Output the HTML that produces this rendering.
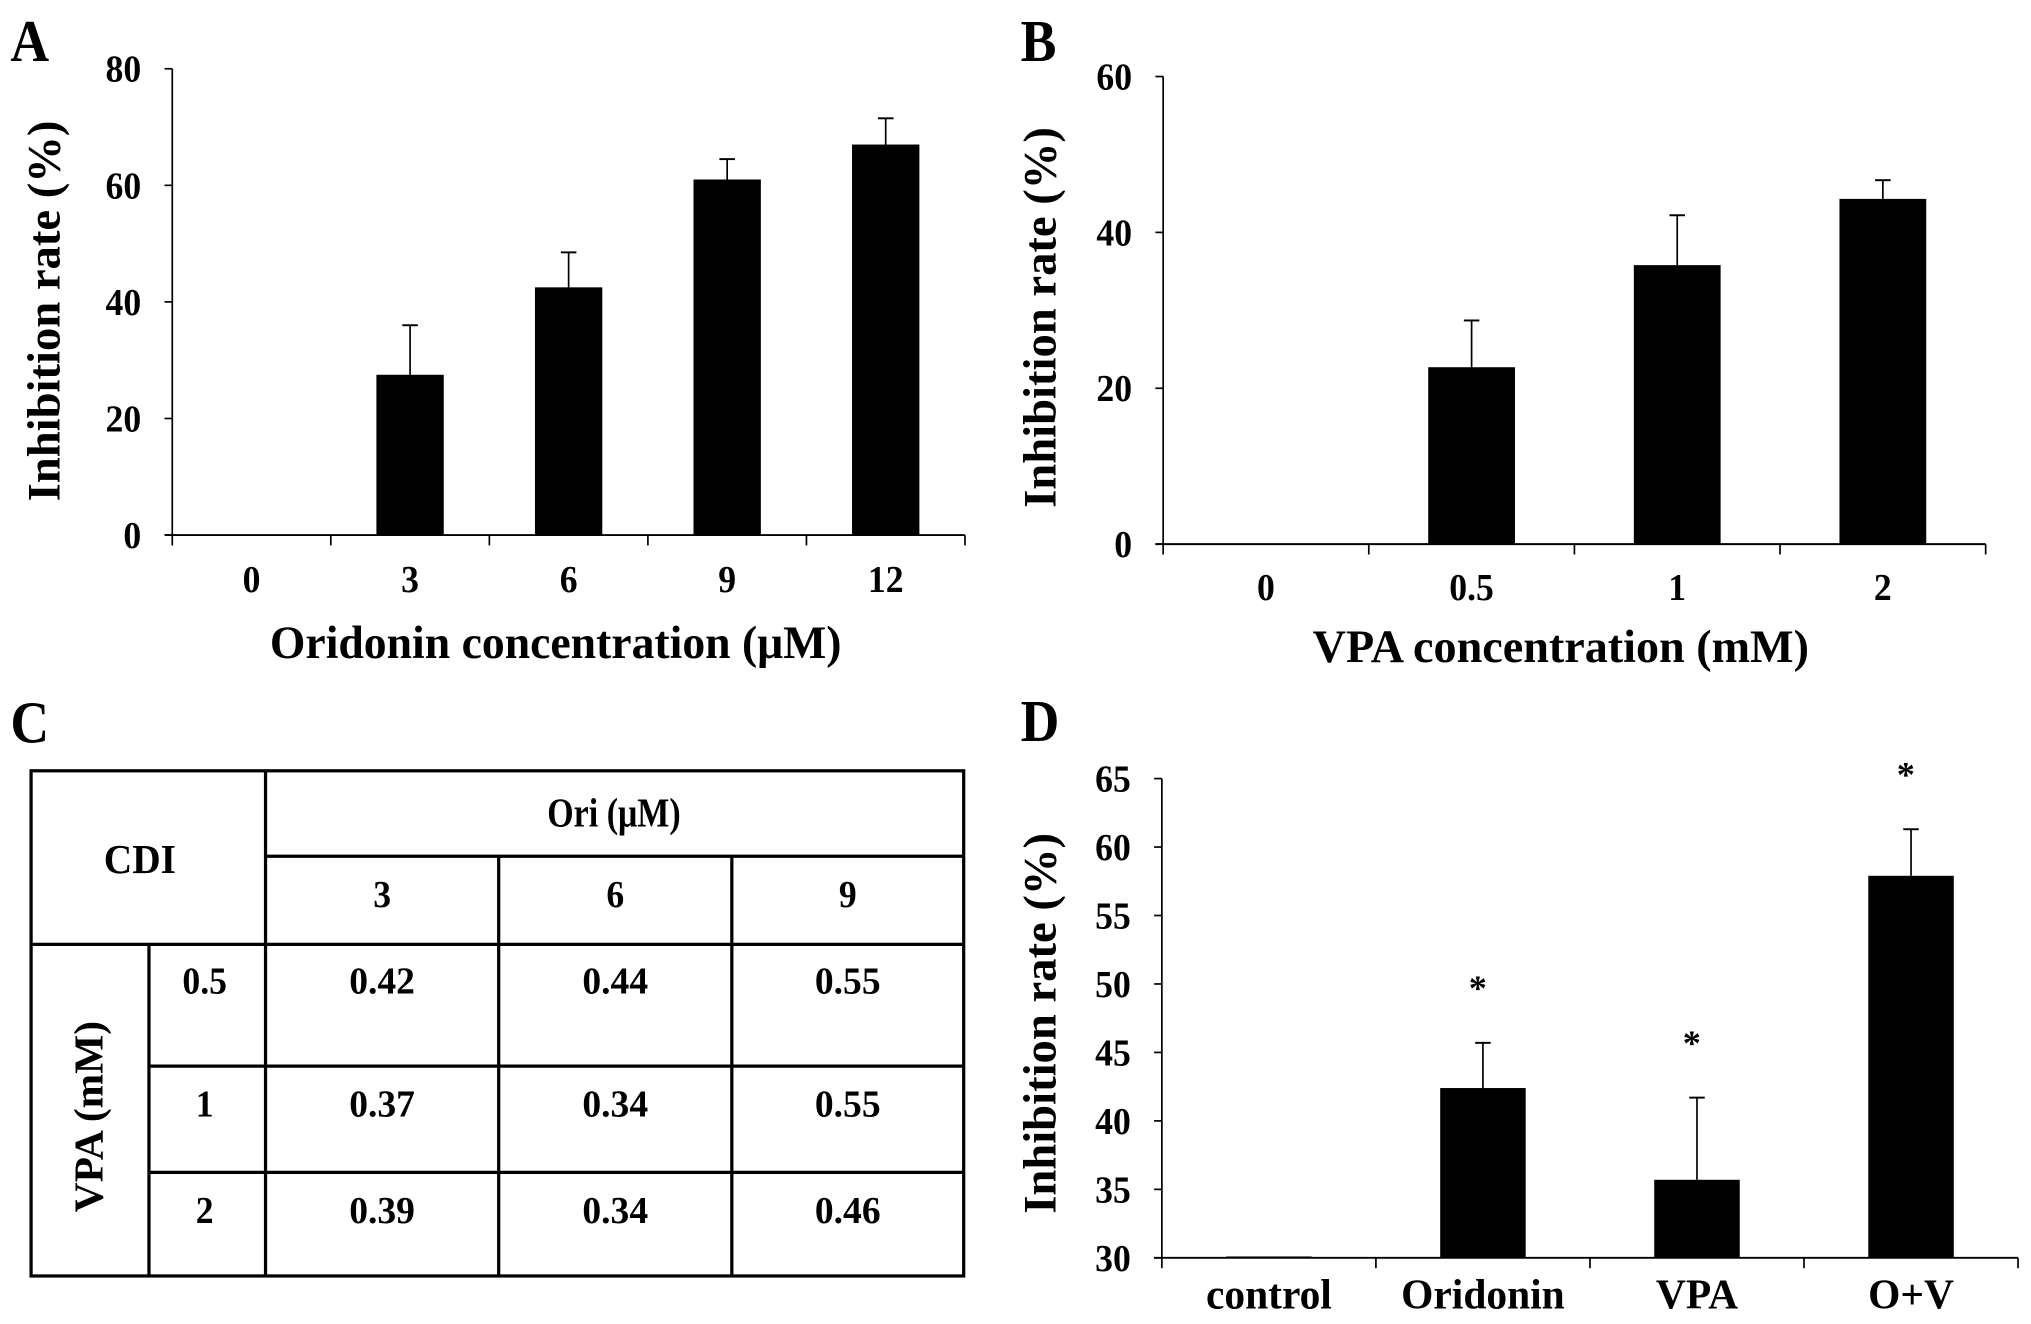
<!DOCTYPE html>
<html><head><meta charset="utf-8"><style>
html,body{margin:0;padding:0;background:#fff;}
svg{display:block;}
text{font-family:"Liberation Serif",serif;font-weight:bold;fill:#000;}
</style></head><body>
<svg id="fig" width="2031" height="1324" viewBox="0 0 1568 1022" xmlns="http://www.w3.org/2000/svg">
<g id="pA"></g>
<g id="pB"></g>
<g id="pC"></g>
<g id="pD"></g>
</svg>
<script>
const catsA=["0","3","6","9","12"];
const valsA=[0,27.5,42.5,61,67];
const errA=[0,36,48.5,64.5,71.5];
const ticksA=[0,20,40,60,80];
const catsB=["0","0.5","1","2"];
const valsB=[0,22.7,35.8,44.3];
const errB=[0,28.7,42.2,46.7];
const ticksB=[0,20,40,60];
const catsD=["control","Oridonin","VPA","O+V"];
const valsD=[30.1,42.4,35.7,57.9];
const errD=[0,45.7,41.7,61.3];
const starD=[false,true,true,true];
const ticksD=[30,35,40,45,50,55,60,65];
const cdiCols=["3","6","9"];
const cdiRows=["0.5","1","2"];
const cdiVals=[["0.42","0.44","0.55"],["0.37","0.34","0.55"],["0.39","0.34","0.46"]];

const NS="http://www.w3.org/2000/svg";
function mk(parent,tag,attrs,txt){const e=document.createElementNS(NS,tag);for(const k in attrs)e.setAttribute(k,attrs[k]);if(txt!==undefined)e.textContent=txt;parent.appendChild(e);return e;}
function ct(parent,x,y,s,fs,anchor,sx,rot){
  return mk(parent,"text",{x:0,y:0,"text-anchor":anchor||"middle","font-size":fs,
    transform:"translate("+x+","+y+")"+(rot?" rotate(-90)":"")+" scale("+(sx||0.8)+",1)"},s);
}

function chart(g,o){
  const y=v=>o.y0-(v-o.vmin)/(o.vmax-o.vmin)*(o.y0-o.yTop);
  const n=o.cats.length, step=(o.x1-o.x0)/n;
  const xc=i=>o.x0+step*(i+0.5);
  let e;
  e=mk(g,"line",{x1:o.x0,y1:o.yTop,x2:o.x0,y2:o.y0,stroke:"#000","stroke-width":1.3});
  
  e=mk(g,"line",{x1:o.x0-6,y1:o.y0,x2:o.x1,y2:o.y0,stroke:"#000","stroke-width":1.5});
  
  o.ticks.forEach(t=>{
    e=mk(g,"line",{x1:o.x0-6,y1:y(t),x2:o.x0,y2:y(t),stroke:"#000","stroke-width":1.3});
    
    e=ct(g,o.x0-24,y(t)+10,String(t),o.tfs,"end",0.95);
    
  });
  for(let i=0;i<=n;i++){
    e=mk(g,"line",{x1:o.x0+step*i,y1:o.y0,x2:o.x0+step*i,y2:o.y0+8,stroke:"#000","stroke-width":1.3});
    
  }
  o.cats.forEach((c,i)=>{
    const v=o.vals[i];
    if(v>o.vmin){
      const h=Math.max(y(o.vmin)-y(v),1.5);
      e=mk(g,"rect",{x:xc(i)-o.bw/2,y:y(v),width:o.bw,height:h,fill:"#000"});
      
    }
    if(o.err[i]>v){
      e=mk(g,"line",{x1:xc(i),y1:y(o.err[i]),x2:xc(i),y2:y(v),stroke:"#000","stroke-width":1.3});
      
      e=mk(g,"line",{x1:xc(i)-6,y1:y(o.err[i]),x2:xc(i)+6,y2:y(o.err[i]),stroke:"#000","stroke-width":1.5});
      
    }
    if(o.stars&&o.stars[i]){
      e=mk(g,"text",{x:xc(i)-4,y:y(o.err[i])-o.starGap,"text-anchor":"middle","font-size":28},"*");
      
    }
    e=ct(g,xc(i),o.labY,c,o.cfs,"middle",o.csx||0.95);
    
  });
}

const A=document.getElementById('pA');
chart(A,{x0:133,x1:745,y0:413,yTop:53,vmin:0,vmax:80,cats:catsA,vals:valsA,err:errA,ticks:ticksA,bw:52,tfs:29,cfs:29,labY:457});
const B=document.getElementById('pB');
chart(B,{x0:898,x1:1533,y0:420,yTop:59,vmin:0,vmax:60,cats:catsB,vals:valsB,err:errB,ticks:ticksB,bw:67,tfs:29,cfs:29,labY:463});
const D=document.getElementById('pD');
chart(D,{x0:897,x1:1558,y0:971,yTop:601,vmin:30,vmax:65,cats:catsD,vals:valsD,err:errD,ticks:ticksD,bw:66,tfs:29,cfs:33,csx:0.97,labY:1010,stars:starD,starGap:33});

function lab(g,name,x,y,s,fs,anchor,sx,rot){const e=ct(g,x,y,s,fs,anchor,sx,rot);return e;}
lab(A,'panel-label-a',8,47,"A",46,"start",0.9);
lab(A,'x-axis-title',429,508,"Oridonin concentration (μM)",36,"middle",0.98);
lab(A,'y-axis-title',46,240,"Inhibition rate (%)",36,"middle",1.0,true);
lab(B,'panel-label-b',788,47,"B",46,"start",0.9);
lab(B,'x-axis-title',1205,511,"VPA concentration (mM)",36,"middle",0.99);
lab(B,'y-axis-title',815,245,"Inhibition rate (%)",36,"middle",1.0,true);
lab(D,'panel-label-d',788,572,"D",46,"start",0.9);
lab(D,'y-axis-title',815,790,"Inhibition rate (%)",36,"middle",1.0,true);

const C=document.getElementById('pC');
lab(C,'panel-label-c',8,573,"C",46,"start",0.9);
const L=(x1,y1,x2,y2)=>{const e=mk(C,"line",{x1,y1,x2,y2,stroke:"#000","stroke-width":2.5});};
const e0=mk(C,"rect",{x:24,y:595,width:720,height:390,fill:"none",stroke:"#000","stroke-width":2.5});

const colX=[205,385,565,744];
L(205,595,205,985);L(115,729,115,985);
L(205,661,744,661);L(24,729,744,729);
L(385,661,385,985);L(565,661,565,985);
L(115,823,744,823);L(115,905,744,905);
lab(C,'cdi-header',108,674,"CDI",32,"middle",0.95);
lab(C,'ori-header',474,638,"Ori (μM)",32,"middle",0.82);
lab(C,'vpa-header',79,862,"VPA (mM)",32,"middle",1,true);
cdiCols.forEach((c,j)=>lab(C,'ori-dose-'+c,(colX[j]+colX[j+1])/2,700,c,29,"middle",0.95));
const rowTextY=[767,862,944];
cdiRows.forEach((r,i)=>{
  lab(C,'vpa-dose-'+r,158,rowTextY[i],r,29,"middle",0.95);
  cdiVals[i].forEach((v,j)=>lab(C,'cdi-value',(colX[j]+colX[j+1])/2,rowTextY[i],v,29,"middle",1.0));
});
</script>
</body></html>
